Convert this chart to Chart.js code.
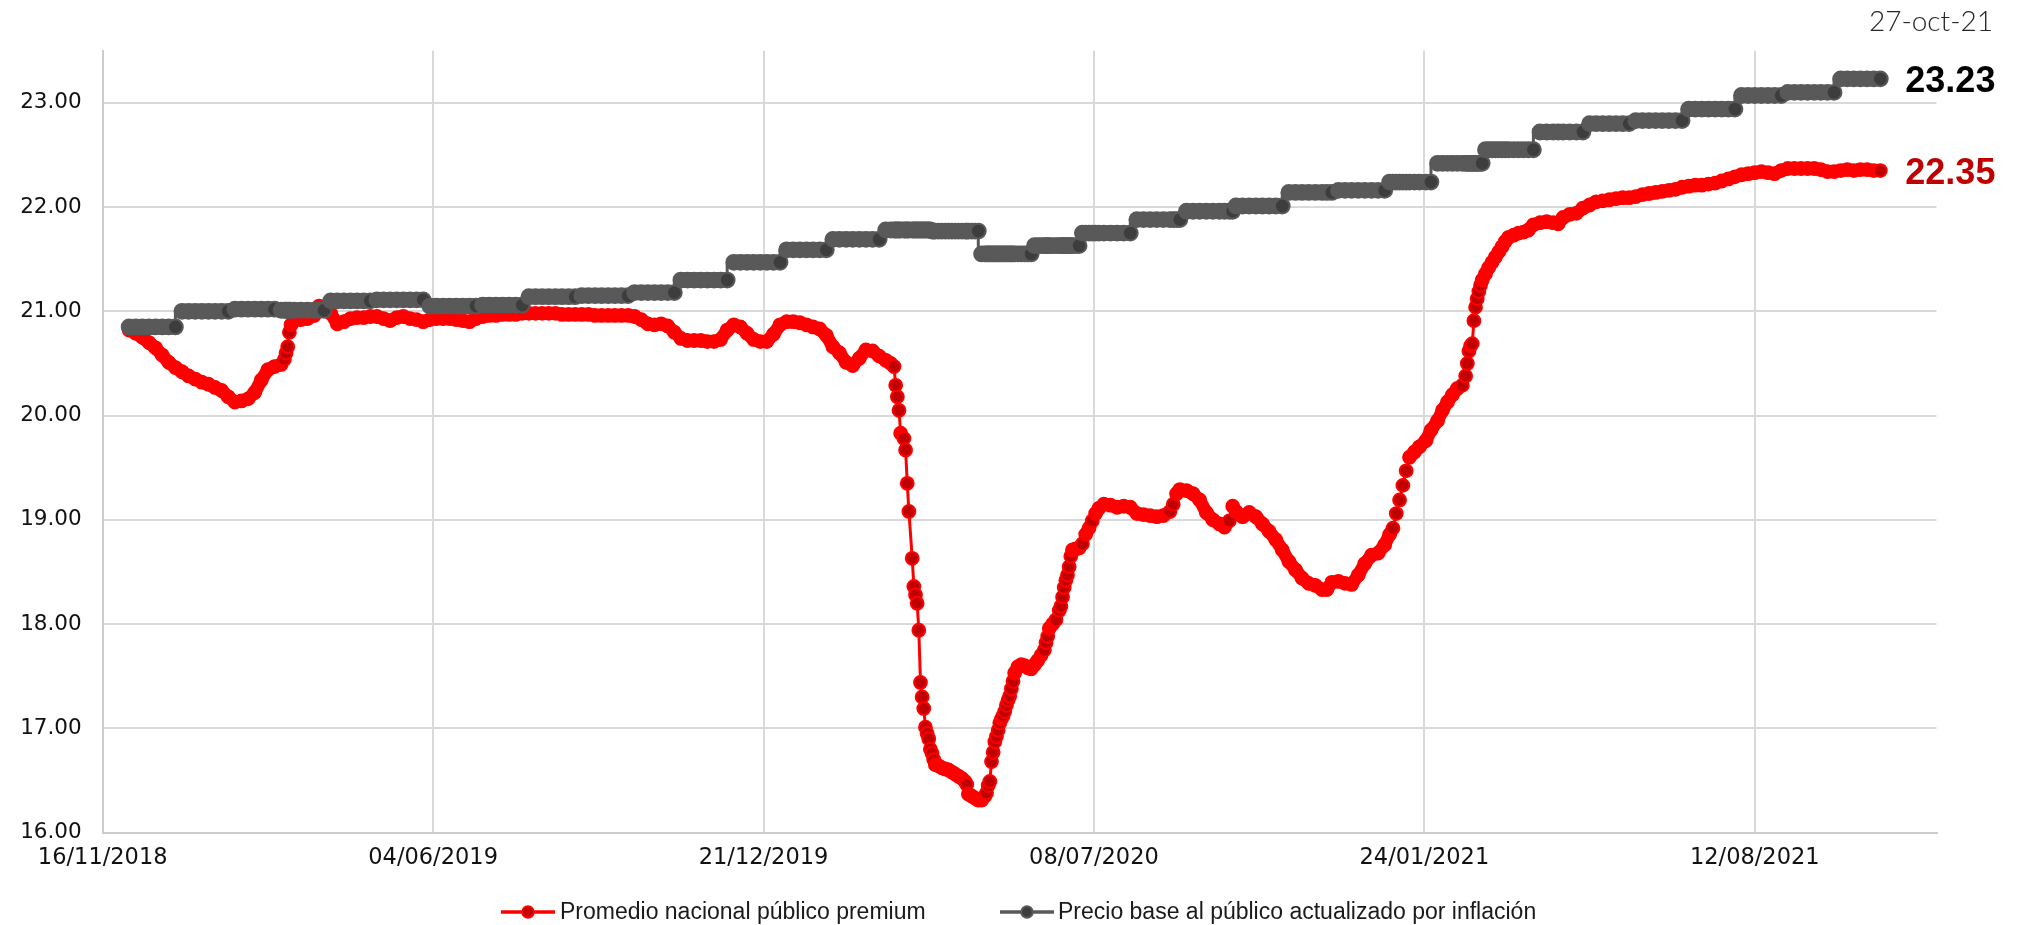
<!DOCTYPE html>
<html><head><meta charset="utf-8">
<script src="https://cdn.jsdelivr.net/npm/chart.js@4.4.1/dist/chart.umd.min.js"></script>
<style>html,body{margin:0;padding:0;overflow:hidden;background:#fff;width:2018px;height:925px}canvas{display:block}</style>
</head><body><canvas id="c" width="2018" height="925"></canvas>
<script>
// ---- Datos ----
const fechas = [
'2018-12-02','2018-12-06','2018-12-10','2018-12-14','2018-12-18','2018-12-22','2018-12-26','2018-12-30',
'2019-01-03','2019-01-07','2019-01-11','2019-01-15','2019-01-19','2019-01-23','2019-01-27','2019-01-31',
'2019-02-04','2019-02-08','2019-02-12','2019-02-16','2019-02-20','2019-02-24','2019-02-28',
'2019-03-04','2019-03-06','2019-03-07','2019-03-08','2019-03-09','2019-03-10','2019-03-12','2019-03-16','2019-03-20','2019-03-24','2019-03-27','2019-03-30',
'2019-04-03','2019-04-07','2019-04-11','2019-04-15','2019-04-19','2019-04-23','2019-04-27',
'2019-05-01','2019-05-05','2019-05-09','2019-05-13','2019-05-17','2019-05-21','2019-05-25','2019-05-29',
'2019-06-02','2019-06-06','2019-06-10','2019-06-14','2019-06-18','2019-06-22','2019-06-26','2019-06-30',
'2019-07-04','2019-07-08','2019-07-12','2019-07-16','2019-07-20','2019-07-24','2019-07-28',
'2019-08-01','2019-08-05','2019-08-09','2019-08-13','2019-08-17','2019-08-21','2019-08-25','2019-08-29',
'2019-09-02','2019-09-06','2019-09-10','2019-09-14','2019-09-18','2019-09-22','2019-09-26','2019-09-30',
'2019-10-04','2019-10-08','2019-10-12','2019-10-16','2019-10-20','2019-10-24','2019-10-28',
'2019-11-01','2019-11-05','2019-11-09','2019-11-13','2019-11-17','2019-11-21','2019-11-25','2019-11-29',
'2019-12-03','2019-12-07','2019-12-11','2019-12-15','2019-12-19','2019-12-23','2019-12-27','2019-12-31',
'2020-01-04','2020-01-08','2020-01-12','2020-01-16','2020-01-20','2020-01-24','2020-01-28',
'2020-02-01','2020-02-05','2020-02-09','2020-02-13','2020-02-17','2020-02-21','2020-02-25','2020-02-29',
'2020-03-04','2020-03-07','2020-03-09','2020-03-10','2020-03-11','2020-03-12','2020-03-13','2020-03-15','2020-03-16','2020-03-17','2020-03-18','2020-03-20','2020-03-21','2020-03-22','2020-03-23','2020-03-24','2020-03-25','2020-03-26','2020-03-27','2020-03-28','2020-03-29','2020-03-30','2020-03-31',
'2020-04-01','2020-04-02','2020-04-03','2020-04-05','2020-04-07','2020-04-09','2020-04-11','2020-04-13','2020-04-15','2020-04-17','2020-04-19','2020-04-21','2020-04-22','2020-04-23','2020-04-25','2020-04-27','2020-04-29',
'2020-05-01','2020-05-03','2020-05-04','2020-05-05','2020-05-06','2020-05-07','2020-05-08','2020-05-09','2020-05-10','2020-05-11','2020-05-12','2020-05-13','2020-05-14','2020-05-15','2020-05-16','2020-05-17','2020-05-18','2020-05-19','2020-05-20','2020-05-21','2020-05-23','2020-05-25','2020-05-27','2020-05-29','2020-05-31',
'2020-06-02','2020-06-04','2020-06-06','2020-06-08','2020-06-09','2020-06-10','2020-06-11','2020-06-13','2020-06-15','2020-06-17','2020-06-18','2020-06-19','2020-06-20','2020-06-21','2020-06-22','2020-06-23','2020-06-24','2020-06-25','2020-06-27','2020-06-29',
'2020-07-01','2020-07-03','2020-07-05','2020-07-07','2020-07-09','2020-07-11','2020-07-14','2020-07-18','2020-07-22','2020-07-26','2020-07-30',
'2020-08-03','2020-08-07','2020-08-11','2020-08-15','2020-08-19','2020-08-23','2020-08-25','2020-08-27','2020-08-29',
'2020-09-02','2020-09-06','2020-09-10','2020-09-14','2020-09-18','2020-09-22','2020-09-25','2020-09-28','2020-09-30',
'2020-10-02','2020-10-06','2020-10-10','2020-10-14','2020-10-18','2020-10-22','2020-10-26','2020-10-30',
'2020-11-03','2020-11-07','2020-11-11','2020-11-15','2020-11-19','2020-11-23','2020-11-26','2020-11-29',
'2020-12-03','2020-12-07','2020-12-11','2020-12-15','2020-12-19','2020-12-23','2020-12-27','2020-12-31',
'2021-01-03','2021-01-05','2021-01-07','2021-01-09','2021-01-11','2021-01-13','2021-01-15','2021-01-18','2021-01-21','2021-01-25','2021-01-28',
'2021-02-01','2021-02-04','2021-02-07','2021-02-10','2021-02-13','2021-02-16','2021-02-18','2021-02-19','2021-02-20','2021-02-21','2021-02-22','2021-02-23','2021-02-24','2021-02-25','2021-02-26','2021-02-27','2021-02-28',
'2021-03-02','2021-03-04','2021-03-06','2021-03-08','2021-03-10','2021-03-12','2021-03-14','2021-03-16','2021-03-19','2021-03-22','2021-03-25','2021-03-28','2021-03-31',
'2021-04-04','2021-04-08','2021-04-12','2021-04-15','2021-04-18','2021-04-22','2021-04-26','2021-04-30',
'2021-05-04','2021-05-08','2021-05-12','2021-05-16','2021-05-20','2021-05-24','2021-05-28',
'2021-06-01','2021-06-05','2021-06-09','2021-06-13','2021-06-17','2021-06-21','2021-06-25','2021-06-29',
'2021-07-03','2021-07-07','2021-07-11','2021-07-15','2021-07-19','2021-07-23','2021-07-27','2021-07-31',
'2021-08-04','2021-08-08','2021-08-12','2021-08-16','2021-08-20','2021-08-24','2021-08-28',
'2021-09-01','2021-09-05','2021-09-09','2021-09-13','2021-09-17','2021-09-21','2021-09-25','2021-09-29',
'2021-10-03','2021-10-07','2021-10-11','2021-10-15','2021-10-19','2021-10-23','2021-10-27'
];
const premium = [
20.82,20.79,20.75,20.70,20.65,20.58,20.51,20.46,
20.42,20.38,20.35,20.32,20.30,20.27,20.24,20.18,
20.13,20.14,20.16,20.22,20.34,20.44,20.47,
20.49,20.54,20.60,20.66,20.80,20.87,20.91,20.92,20.93,20.96,21.05,21.03,
20.98,20.88,20.90,20.93,20.94,20.94,20.95,
20.95,20.93,20.91,20.94,20.95,20.93,20.92,20.90,
20.92,20.93,20.93,20.93,20.92,20.91,20.90,20.93,
20.95,20.96,20.96,20.97,20.97,20.97,20.98,
20.98,20.98,20.98,20.98,20.98,20.97,20.97,20.97,
20.97,20.97,20.96,20.96,20.96,20.96,20.96,20.96,
20.95,20.92,20.88,20.87,20.88,20.86,20.80,
20.74,20.72,20.72,20.72,20.71,20.71,20.73,20.82,
20.87,20.85,20.79,20.73,20.71,20.71,20.78,20.87,
20.90,20.90,20.89,20.87,20.85,20.83,20.77,
20.66,20.60,20.51,20.48,20.55,20.63,20.62,20.57,
20.53,20.50,20.47,20.29,20.18,20.05,19.83,19.78,19.67,19.35,19.08,18.63,18.36,18.28,18.20,17.94,17.44,17.30,17.19,17.01,16.95,16.90,16.80,
16.76,16.70,16.65,16.64,16.62,16.61,16.60,16.58,16.56,16.54,16.52,16.49,16.46,16.37,16.35,16.33,16.31,
16.31,16.35,16.38,16.45,16.49,16.68,16.77,16.87,16.92,16.98,17.05,17.09,17.12,17.16,17.22,17.27,17.31,17.38,17.45,17.53,17.59,17.61,17.60,17.58,17.57,
17.61,17.65,17.70,17.75,17.82,17.88,17.96,18.00,18.04,18.13,18.17,18.26,18.35,18.42,18.47,18.55,18.65,18.71,18.72,18.73,
18.77,18.86,18.92,18.99,19.06,19.11,19.15,19.14,19.12,19.13,19.12,
19.06,19.05,19.04,19.03,19.04,19.08,19.15,19.25,19.29,
19.28,19.25,19.19,19.07,19.00,18.96,18.93,18.99,19.13,
19.08,19.03,19.07,19.03,18.96,18.89,18.81,18.71,
18.60,18.52,18.44,18.39,18.37,18.33,18.33,18.40,
18.41,18.39,18.38,18.47,18.58,18.66,18.68,18.76,
18.86,18.92,19.06,19.19,19.33,19.47,19.60,19.65,19.70,19.76,19.86,
19.95,20.05,20.13,20.20,20.26,20.29,20.38,20.50,20.62,20.67,20.69,20.91,21.04,21.12,21.19,21.25,21.30,
21.36,21.42,21.47,21.52,21.57,21.62,21.67,21.71,21.73,21.75,21.76,21.78,21.83,
21.85,21.86,21.85,21.84,21.90,21.93,21.94,21.99,
22.02,22.05,22.06,22.07,22.08,22.09,22.09,
22.10,22.12,22.13,22.14,22.15,22.16,22.17,22.19,
22.20,22.21,22.21,22.22,22.23,22.25,22.27,22.29,
22.31,22.32,22.33,22.34,22.33,22.32,22.35,
22.37,22.37,22.37,22.37,22.37,22.36,22.34,22.34,
22.35,22.36,22.35,22.36,22.36,22.35,22.35
];
// Precio base mensual (escalones)
const meses = ['2018-12','2019-01','2019-02','2019-03','2019-04','2019-05','2019-06','2019-07','2019-08','2019-09','2019-10','2019-11','2019-12',
'2020-01','2020-02','2020-03','2020-04','2020-05','2020-06','2020-07','2020-08','2020-09','2020-10','2020-11','2020-12',
'2021-01','2021-02','2021-03','2021-04','2021-05','2021-06','2021-07','2021-08','2021-09','2021-10'];
const precioBase = [20.85,21.00,21.02,21.01,21.10,21.11,21.05,21.06,21.14,21.15,21.18,21.30,21.47,
21.59,21.69,21.78,21.77,21.55,21.63,21.75,21.88,21.96,22.01,22.14,22.16,
22.24,22.42,22.55,22.72,22.80,22.83,22.94,23.07,23.10,23.23];
const xTicks = ['16/11/2018','04/06/2019','21/12/2019','08/07/2020','24/01/2021','12/08/2021'];
const yTicks = [16,17,18,19,20,21,22,23];
const series = ['Promedio nacional público premium','Precio base al público actualizado por inflación'];

// ---- Construcción ----
const MS = 86400000;
const p = xTicks[0].split('/');
const base = Date.UTC(+p[2], +p[1]-1, +p[0]);
const diaISO = s => { const a = s.split('-'); return Math.round((Date.UTC(+a[0], +a[1]-1, +a[2]) - base)/MS); };
const diaDMY = s => { const a = s.split('/'); return Math.round((Date.UTC(+a[2], +a[1]-1, +a[0]) - base)/MS); };
const xTickDays = xTicks.map(diaDMY);

const dataPremium = fechas.map((f, i) => ({x: diaISO(f), y: premium[i]}));
const dataBase = fechas.map(f => ({x: diaISO(f), y: precioBase[meses.indexOf(f.slice(0,7))]}));

const mesesCortos = ['ene','feb','mar','abr','may','jun','jul','ago','sep','oct','nov','dic'];
const ult = fechas[fechas.length-1].split('-');
const fechaCorte = (+ult[2]) + '-' + mesesCortos[+ult[1]-1] + '-' + ult[0].slice(2);

const ROJO = '#FF0000', ROJO_OSC = '#C00000', GRIS = '#595959', GRIS_OSC = '#3d3d3d';
const pendiente = (d, i) => Math.abs(d[i+1].y - d[i].y) / (d[i+1].x - d[i].x);

const etiquetas = {
  id: 'etiquetas',
  afterDatasetsDraw(chart) {
    const {ctx, scales: {x, y}} = chart;
    ctx.save();
    chart.data.datasets.forEach(ds => {
      const last = ds.data[ds.data.length-1];
      const px = x.getPixelForValue(last.x), py = y.getPixelForValue(last.y);
      ctx.font = 'bold 36px "Liberation Sans", Arial, sans-serif';
      ctx.fillStyle = ds.labelColor;
      ctx.textAlign = 'left'; ctx.textBaseline = 'alphabetic';
      ctx.fillText(last.y.toFixed(2), px + 25, py + 13);
    });
    ctx.font = '300 28px Lato, "Open Sans", sans-serif';
    ctx.fillStyle = '#262626';
    ctx.textAlign = 'right'; ctx.textBaseline = 'alphabetic';
    ctx.fillText(fechaCorte, 1993, 31);
    ctx.restore();
  }
};

// Leyenda inferior (línea con marcador + texto)
const leyenda = {
  id: 'leyenda',
  afterDraw(chart) {
    const ctx = chart.ctx;
    const pos = [{x0: 501, tx: 560}, {x0: 1000, tx: 1058}];
    const yc = 912;
    ctx.save();
    chart.data.datasets.forEach((ds, i) => {
      const {x0, tx} = pos[i];
      ctx.strokeStyle = ds.borderColor; ctx.lineWidth = 3.5; ctx.lineCap = 'butt';
      ctx.beginPath(); ctx.moveTo(x0, yc); ctx.lineTo(x0 + 54, yc); ctx.stroke();
      ctx.beginPath(); ctx.arc(x0 + 27, yc, 5.75, 0, Math.PI*2);
      ctx.fillStyle = ds.markerDark; ctx.fill();
      ctx.lineWidth = 2; ctx.strokeStyle = ds.borderColor; ctx.stroke();
      ctx.font = '23px "Liberation Sans", Arial, sans-serif';
      ctx.fillStyle = '#1a1a1a'; ctx.textAlign = 'left'; ctx.textBaseline = 'middle';
      ctx.fillText(ds.label, tx, yc + 1);
    });
    ctx.restore();
  }
};

Chart.defaults.font.family = '"DejaVu Sans", sans-serif';

new Chart(document.getElementById('c'), {
  type: 'line',
  data: {
    datasets: [
      {
        label: series[0], data: dataPremium, order: 1,
        borderColor: ROJO, borderWidth: 3, labelColor: ROJO_OSC, markerDark: ROJO_OSC,
        borderCapStyle: 'round', borderJoinStyle: 'round',
        segment: {
          borderWidth: s => {
            const d = s.chart.data.datasets[s.datasetIndex].data;
            return pendiente(d, s.p0DataIndex) > 0.035 ? 3 : 13;
          }
        },
        pointRadius: 6.4, pointBorderWidth: 2, pointBorderColor: ROJO,
        pointBackgroundColor: (c) => {
          if (c.type !== 'data') return ROJO_OSC;
          const d = c.dataset.data, i = c.dataIndex;
          if (i >= d.length - 1) return ROJO_OSC;
          return pendiente(d, i) > 0.035 ? ROJO_OSC : ROJO;
        }
      },
      {
        label: series[1], data: dataBase, order: 0, stepped: 'after',
        borderColor: GRIS, borderWidth: 3, labelColor: '#000000', markerDark: GRIS_OSC,
        borderCapStyle: 'round', borderJoinStyle: 'round',
        segment: {
          borderWidth: s => {
            const d = s.chart.data.datasets[s.datasetIndex].data;
            return d[s.p0DataIndex].y === d[s.p1DataIndex].y ? 15 : 3;
          }
        },
        pointRadius: 7.4, pointBorderWidth: 2, pointBorderColor: GRIS,
        pointBackgroundColor: (c) => {
          if (c.type !== 'data') return GRIS_OSC;
          const d = c.dataset.data, i = c.dataIndex;
          if (i >= d.length - 1) return GRIS_OSC;
          return d[i+1].y !== d[i].y ? GRIS_OSC : GRIS;
        }
      }
    ]
  },
  options: {
    responsive: false, animation: false, devicePixelRatio: 1,
    layout: {padding: {left: 0, right: 81.5, top: 50.7, bottom: 34}},
    scales: {
      x: {
        type: 'linear', min: xTickDays[0], max: 1110,
        afterBuildTicks: s => { s.ticks = xTickDays.map(v => ({value: v})); },
        afterFit: s => { s.height = 58.5; },
        grid: {color: '#d9d9d9', lineWidth: 2, drawTicks: false},
        border: {display: true, color: '#cccccc', width: 2},
        ticks: {
          autoSkip: false, maxRotation: 0, padding: 12, color: '#111',
          font: {size: 22.5, family: '"DejaVu Sans", sans-serif'},
          callback: v => xTicks[xTickDays.indexOf(v)] || ''
        }
      },
      y: {
        type: 'linear', min: 16, max: 23.5,
        afterBuildTicks: s => { s.ticks = yTicks.map(v => ({value: v})); },
        afterFit: s => { s.width = 102.7; },
        grid: {color: '#d9d9d9', lineWidth: 2, drawTicks: false},
        border: {display: true, color: '#cccccc', width: 2},
        ticks: {
          padding: 21, color: '#111',
          font: {size: 21.5, family: '"DejaVu Sans", sans-serif'},
          callback: v => Number(v).toFixed(2)
        }
      }
    },
    plugins: {
      tooltip: {enabled: false},
      legend: {display: false}
    }
  },
  plugins: [etiquetas, leyenda]
});
</script>
</body></html>
